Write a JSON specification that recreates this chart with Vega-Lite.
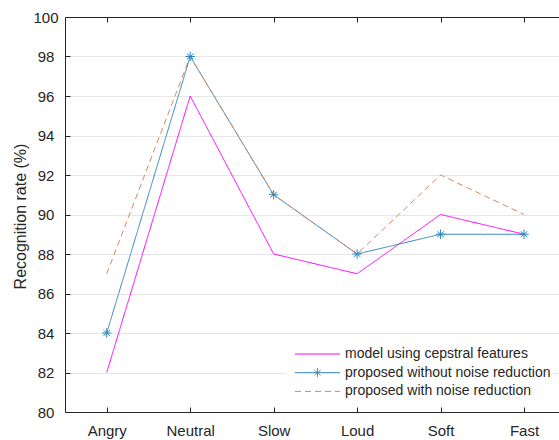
{
  "$schema": "https://vega.github.io/schema/vega-lite/v6.json",
  "width": 494,
  "height": 395,
  "autosize": {"type": "none"},
  "padding": {"left": 65, "top": 17, "right": 0, "bottom": 28},
  "background": "white",
  "config": {
    "view": {"stroke": null},
    "font": "Liberation Sans",
    "axis": {
      "domainColor": "#262626",
      "tickColor": "#262626",
      "labelColor": "#262626",
      "titleColor": "#262626",
      "labelFont": "Liberation Sans",
      "titleFont": "Liberation Sans",
      "labelFontSize": 15,
      "titleFontSize": 16,
      "titleFontWeight": "normal",
      "domainWidth": 1,
      "tickWidth": 1,
      "labelOverlap": false
    }
  },
  "resolve": {"axis": {"x": "independent"}},
  "data": {
    "values": [
      {"series": "model using cepstral features", "idx": 1, "value": 82},
      {"series": "model using cepstral features", "idx": 2, "value": 96},
      {"series": "model using cepstral features", "idx": 3, "value": 88},
      {"series": "model using cepstral features", "idx": 4, "value": 87},
      {"series": "model using cepstral features", "idx": 5, "value": 90},
      {"series": "model using cepstral features", "idx": 6, "value": 89},
      {"series": "proposed without noise reduction", "idx": 1, "value": 84},
      {"series": "proposed without noise reduction", "idx": 2, "value": 98},
      {"series": "proposed without noise reduction", "idx": 3, "value": 91},
      {"series": "proposed without noise reduction", "idx": 4, "value": 88},
      {"series": "proposed without noise reduction", "idx": 5, "value": 89},
      {"series": "proposed without noise reduction", "idx": 6, "value": 89},
      {"series": "proposed with noise reduction", "idx": 1, "value": 87},
      {"series": "proposed with noise reduction", "idx": 2, "value": 98},
      {"series": "proposed with noise reduction", "idx": 3, "value": 91},
      {"series": "proposed with noise reduction", "idx": 4, "value": 88},
      {"series": "proposed with noise reduction", "idx": 5, "value": 92},
      {"series": "proposed with noise reduction", "idx": 6, "value": 90}
    ]
  },
  "layer": [
    {
      "mark": {"type": "line", "strokeWidth": 1, "clip": true},
      "encoding": {
        "x": {
          "field": "idx", "type": "quantitative",
          "scale": {"domain": [0.5, 6.419], "nice": false, "zero": false},
          "axis": {
            "orient": "bottom", "title": null, "grid": false,
            "values": [1, 2, 3, 4, 5, 6],
            "labelExpr": "['Angry','Neutral','Slow','Loud','Soft','Fast'][datum.value - 1]",
            "tickSize": -5, "labelPadding": 16, "labelFlush": false, "labelOverlap": false
          }
        },
        "y": {
          "field": "value", "type": "quantitative",
          "scale": {"domain": [80, 100], "nice": false, "zero": false},
          "axis": {
            "title": "Recognition rate (%)",
            "values": [80, 82, 84, 86, 88, 90, 92, 94, 96, 98, 100],
            "tickCount": 11,
            "labelOverlap": false,
            "labelSeparation": 0,
            "grid": true, "gridColor": "#e6e6e6", "gridWidth": 1,
            "tickSize": -5, "labelPadding": 24.5, "labelAlign": "center",
            "labelFlush": false,
            "titleX": -45, "titleY": 199, "titleBaseline": "middle", "titleAlign": "center", "titleAngle": -90
          }
        },
        "color": {
          "field": "series", "type": "nominal",
          "scale": {
            "domain": ["model using cepstral features", "proposed without noise reduction", "proposed with noise reduction"],
            "range": ["#ff00ff", "#2f86bb", "#d4875f"]
          },
          "legend": {
            "title": null,
            "orient": "none",
            "legendX": 221,
            "legendY": 328,
            "padding": 2,
            "fillColor": "white",
            "labelFont": "Liberation Sans",
            "labelFontSize": 14,
            "labelLimit": 400,
            "labelColor": "#262626",
            "symbolType": "M0,0L9,0",
            "symbolSize": 100,
            "symbolStrokeWidth": 1,
            "labelOffset": 43,
            "rowPadding": 4.7,
            "encode": {
              "symbols": {
                "update": {
                  "shape": {"signal": "datum.value === 'proposed without noise reduction' ? 'M0,0L9,0M4.5,-0.9L4.5,0.9M3.9,-0.5L5.1,0.5M3.9,0.5L5.1,-0.5' : 'M0,0L9,0'"},
                  "fill": {"value": "transparent"}
                }
              }
            }
          }
        },
        "strokeDash": {
          "field": "series", "type": "nominal",
          "scale": {
            "domain": ["model using cepstral features", "proposed without noise reduction", "proposed with noise reduction"],
            "range": [[1, 0], [1, 0], [6, 4]]
          },
          "legend": null
        }
      }
    },
    {
      "transform": [{"filter": "datum.series === 'proposed without noise reduction'"}],
      "mark": {
        "type": "point",
        "shape": "M-1,0L1,0M0,-1L0,1M-0.7,-0.6L0.7,0.6M-0.7,0.6L0.7,-0.6",
        "filled": false,
        "size": 90,
        "strokeWidth": 1,
        "color": "#2f86bb",
        "opacity": 1
      },
      "encoding": {
        "x": {
          "field": "idx", "type": "quantitative",
          "axis": {
            "orient": "top", "title": null, "grid": false, "labels": false,
            "values": [1, 2, 3, 4, 5, 6], "tickSize": -5
          }
        },
        "y": {"field": "value", "type": "quantitative"}
      }
    }
  ]
}
